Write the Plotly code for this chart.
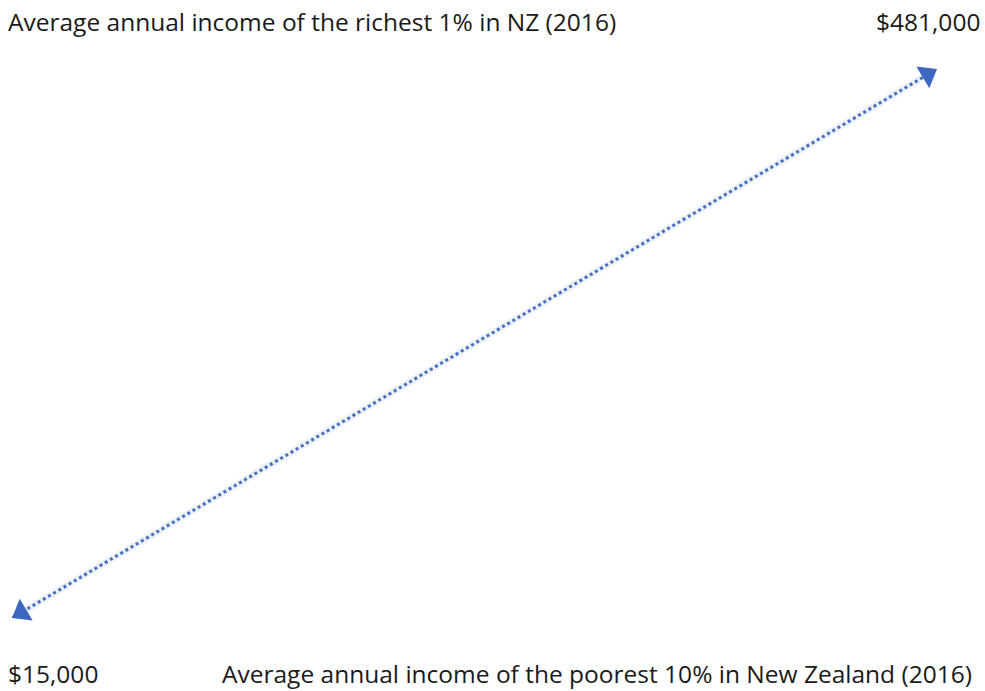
import plotly.graph_objects as go

# Data
incomes = [15000, 481000]          # poorest 10% -> richest 1%
levels = [0, 1]
value_labels = ["$15,000", "$481,000"]
group_labels = [
    "Average annual income of the poorest 10% in New Zealand (2016)",
    "Average annual income of the richest 1% in NZ (2016)",
]

LINE_COLOR = "#4470C0"
HEAD_COLOR = "#3D68C2"
HALO_COLOR = "#EEF1F8"
FONT = "Open Sans"
HEAD = 22

fig = go.Figure()

# faint halo under the dotted line
fig.add_trace(go.Scatter(
    x=incomes, y=levels, mode="lines",
    line=dict(color=HALO_COLOR, width=7),
    cliponaxis=False, hoverinfo="skip", showlegend=False,
))
# dotted line with arrowhead at the high end
fig.add_trace(go.Scatter(
    x=incomes, y=levels, mode="lines+markers",
    line=dict(color=LINE_COLOR, width=3, dash="dot"),
    marker=dict(symbol="triangle-up", size=[0, HEAD], angleref="previous",
                standoff=HEAD / 2, color=HEAD_COLOR, opacity=1, line=dict(width=0)),
    cliponaxis=False, hoverinfo="skip", showlegend=False,
))
# arrowhead at the low end
fig.add_trace(go.Scatter(
    x=incomes[::-1], y=levels[::-1], mode="markers",
    marker=dict(symbol="triangle-up", size=[0, HEAD], angleref="previous",
                standoff=HEAD / 2, color=HEAD_COLOR, opacity=1, line=dict(width=0)),
    cliponaxis=False, hoverinfo="skip", showlegend=False,
))

font = dict(family=FONT, size=24.5, color="#1a1a1a")
fig.add_annotation(text=group_labels[1], xref="paper", yref="paper",
                   x=-0.0065, y=1.0865, xanchor="left", yanchor="middle",
                   showarrow=False, font=font)
fig.add_annotation(text=value_labels[1], xref="paper", yref="paper",
                   x=1.0486, y=1.0865, xanchor="right", yanchor="middle",
                   showarrow=False, font=font)
fig.add_annotation(text=value_labels[0], xref="paper", yref="paper",
                   x=-0.0065, y=-0.102, xanchor="left", yanchor="middle",
                   showarrow=False, font=font)
fig.add_annotation(text=group_labels[0], xref="paper", yref="paper",
                   x=0.2249, y=-0.102, xanchor="left", yanchor="middle",
                   showarrow=False, font=font)

fig.update_layout(
    width=985, height=691,
    margin=dict(l=12, r=48, t=69, b=73),
    paper_bgcolor="white", plot_bgcolor="white",
    xaxis=dict(range=[incomes[0], incomes[1]], visible=False),
    yaxis=dict(range=[levels[0], levels[1]], visible=False),
)

fig.write_html("out.html", config={"displayModeBar": False},
               post_script="document.body.style.margin='0';document.body.style.overflow='hidden';")
